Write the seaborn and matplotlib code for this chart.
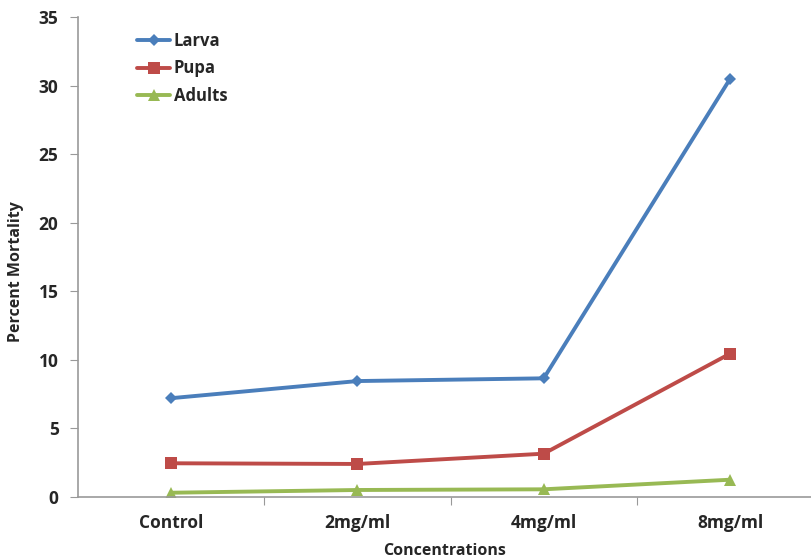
import pandas as pd
import numpy as np
import matplotlib
matplotlib.use("Agg")
import matplotlib.pyplot as plt
import seaborn as sns

# data
concentrations = ["Control", "2mg/ml", "4mg/ml", "8mg/ml"]
larva = [7.2, 8.45, 8.65, 30.5]
pupa = [2.45, 2.4, 3.15, 10.45]
adults = [0.3, 0.5, 0.55, 1.25]
stages = ["Larva", "Pupa", "Adults"]

df = pd.DataFrame({
    "Concentrations": concentrations * 3,
    "x": list(range(len(concentrations))) * 3,
    "Percent Mortality": larva + pupa + adults,
    "Stage": [s for s in stages for _ in concentrations],
})

sns.set_style("white")
plt.rcParams["font.family"] = ["Open Sans", "DejaVu Sans"]

palette = {"Larva": "#4A7EBB", "Pupa": "#BE4B48", "Adults": "#98B954"}
markers = {"Larva": "D", "Pupa": "s", "Adults": "^"}
msizes = {"Larva": 6, "Pupa": 8, "Adults": 9}

fig = plt.figure(figsize=(8.12, 5.57), dpi=100)
ax = fig.add_axes([0.096, 0.108, 0.904, 0.861])

for s in stages:
    sub = df[df["Stage"] == s]
    sns.lineplot(data=sub, x="x", y="Percent Mortality", color=palette[s],
                 marker=markers[s], markersize=msizes[s], markeredgewidth=0,
                 linewidth=2.8, label=s, ax=ax)

ax.set_xlim(-0.5, 3.44)
ax.set_ylim(0, 35)
ax.set_yticks(range(0, 36, 5))
ax.set_xticks(np.arange(0.5, 3.5, 1), minor=False)
ax.set_xticklabels([])
ax.set_xticks(range(len(concentrations)), minor=True)
ax.set_xticklabels(concentrations, minor=True)
ax.tick_params(axis="x", which="minor", length=0, pad=12, labelsize=12.5)
ax.tick_params(axis="x", which="major", length=6, color="#999999", direction="out")
ax.tick_params(axis="y", length=6, color="#999999", direction="out", pad=8, labelsize=12.5)
ax.tick_params(bottom=True, left=True)
for lab in ax.get_xticklabels(minor=True) + ax.get_yticklabels():
    lab.set_fontweight("bold")

sns.despine(ax=ax)
for sp in ["left", "bottom"]:
    ax.spines[sp].set_color("#999999")
    ax.spines[sp].set_linewidth(1.2)

ax.set_xlabel("Concentrations", fontsize=11.5, fontweight="bold", labelpad=8)
ax.set_ylabel("Percent Mortality", fontsize=11.5, fontweight="bold")
ax.yaxis.set_label_coords(-0.073, 0.47)

leg = ax.legend(loc="upper left", bbox_to_anchor=(0.06, 1.0), frameon=False,
                prop={"weight": "bold", "size": 12}, handlelength=2.0,
                handletextpad=0.2, labelspacing=0.55)

fig.savefig("out.png", dpi=100)
